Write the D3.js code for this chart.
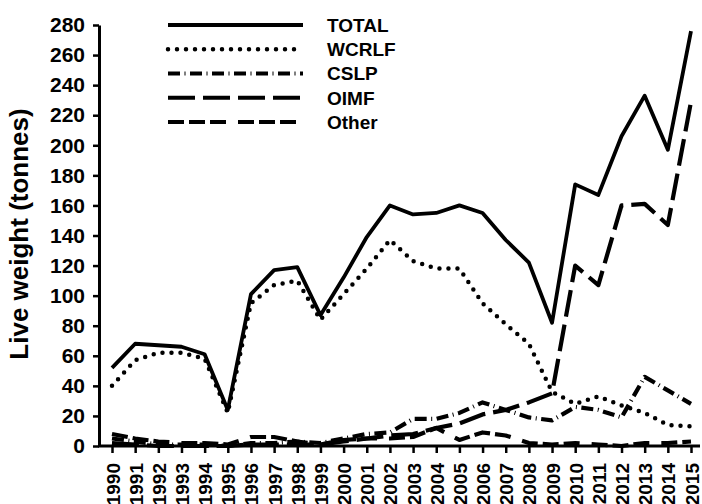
<!DOCTYPE html>
<html>
<head>
<meta charset="utf-8">
<script src="https://cdn.jsdelivr.net/npm/d3@7"></script>
<style>
  html, body { margin: 0; padding: 0; background: #fff; }
  svg { display: block; font-family: "Liberation Sans", Arial, sans-serif; font-weight: bold; }
</style>
</head>
<body>
<svg id="chart" width="702" height="504"></svg>
<script>
const years = [1990,1991,1992,1993,1994,1995,1996,1997,1998,1999,2000,2001,2002,2003,2004,2005,2006,2007,2008,2009,2010,2011,2012,2013,2014,2015];
const total = [52,68,67,66,61,24,101,117,119,87,112,139,160,154,155,160,155,137,122,82,174,167,206,233,197,276];
const wcrlf = [40,57,62,62,58,22,95,107,110,84,101,118,137,123,118,118,95,81,68,36,28,33,27,22,14,13];
const cslp  = [5,3,1,1,1,0,2,2,3,2,5,8,9,18,18,22,29,24,19,17,26,24,19,46,37,28];
const oimf  = [2,1,0,0,0,0,1,1,1,1,3,5,7,8,12,15,21,24,29,35,120,107,160,161,147,229];
const other = [8,5,3,2,2,1,6,6,3,1,4,5,5,6,12,4,9,7,2,1,2,1,0,2,2,3];
const yTicks = [0,20,40,60,80,100,120,140,160,180,200,220,240,260,280];
const seriesNames = ["TOTAL","WCRLF","CSLP","OIMF","Other"];

const series = [
  {name: seriesNames[0], values: total, dash: null, width: 3.8, cap: "butt"},
  {name: seriesNames[1], values: wcrlf, dash: "0,9", width: 4.5, cap: "round"},
  {name: seriesNames[2], values: cslp, dash: "12,4.5,1,4.5", width: 4.2, cap: "butt"},
  {name: seriesNames[3], values: oimf, dash: "27,8", width: 4.2, cap: "butt"},
  {name: seriesNames[4], values: other, dash: "16,5,16,5,16,12", width: 4.2, cap: "butt"}
];

const svg = d3.select("#chart");
const x = d3.scalePoint().domain(years).range([112, 691]);
const y = d3.scaleLinear().domain([0, 280]).range([446, 25]);
const FONT = "'Liberation Sans', Arial, sans-serif";

// y axis
const yAxis = svg.append("g").attr("transform", "translate(99,0)")
  .call(d3.axisLeft(y).tickValues(yTicks).tickSize(6).tickPadding(8).tickSizeOuter(0));
yAxis.select(".domain").attr("stroke", "#000").attr("stroke-width", 3);
yAxis.selectAll(".tick line").attr("stroke", "#000").attr("stroke-width", 2.5);
yAxis.selectAll(".tick text").attr("font-size", 21).attr("font-weight", "bold").attr("fill", "#000")
  .attr("font-family", FONT);

// x axis
const xAxis = svg.append("g").attr("transform", "translate(0,446)")
  .call(d3.axisBottom(x).tickSize(7).tickSizeOuter(0));
xAxis.select(".domain").attr("d", "M98,0H700").attr("stroke", "#000").attr("stroke-width", 3);
xAxis.selectAll(".tick line").attr("stroke", "#000").attr("stroke-width", 2.5);
xAxis.selectAll(".tick text")
  .attr("font-size", 19).attr("font-weight", "bold").attr("fill", "#000")
  .attr("font-family", FONT)
  .attr("text-anchor", "end")
  .attr("dy", null).attr("y", null)
  .attr("transform", "translate(7,17) rotate(-90)");

// y title
svg.append("text")
  .attr("transform", "translate(28,234) rotate(-90)")
  .attr("text-anchor", "middle")
  .attr("font-size", 26).attr("fill", "#000")
  .text("Live weight (tonnes)");

// lines
const line = d3.line().x((d, i) => x(years[i])).y(d => y(d));
svg.append("g").selectAll("path").data(series.slice().reverse()).join("path")
  .attr("d", d => line(d.values))
  .attr("fill", "none").attr("stroke", "#000")
  .attr("stroke-width", d => d.width)
  .attr("stroke-linecap", d => d.cap)
  .attr("stroke-linejoin", "round")
  .attr("stroke-dasharray", d => d.dash);

// legend
const lg = svg.append("g");
const lgY = d3.scalePoint().domain(seriesNames).range([25, 122]);
lg.selectAll("line").data(series).join("line")
  .attr("x1", 168).attr("x2", 303)
  .attr("y1", d => lgY(d.name)).attr("y2", d => lgY(d.name))
  .attr("stroke", "#000")
  .attr("stroke-width", d => d.width)
  .attr("stroke-linecap", d => d.cap)
  .attr("stroke-dasharray", d => d.dash);
lg.selectAll("text").data(series).join("text")
  .attr("x", 327).attr("y", d => lgY(d.name)).attr("dy", "0.36em")
  .attr("font-size", 19).attr("fill", "#000")
  .text(d => d.name);
</script>
</body>
</html>
